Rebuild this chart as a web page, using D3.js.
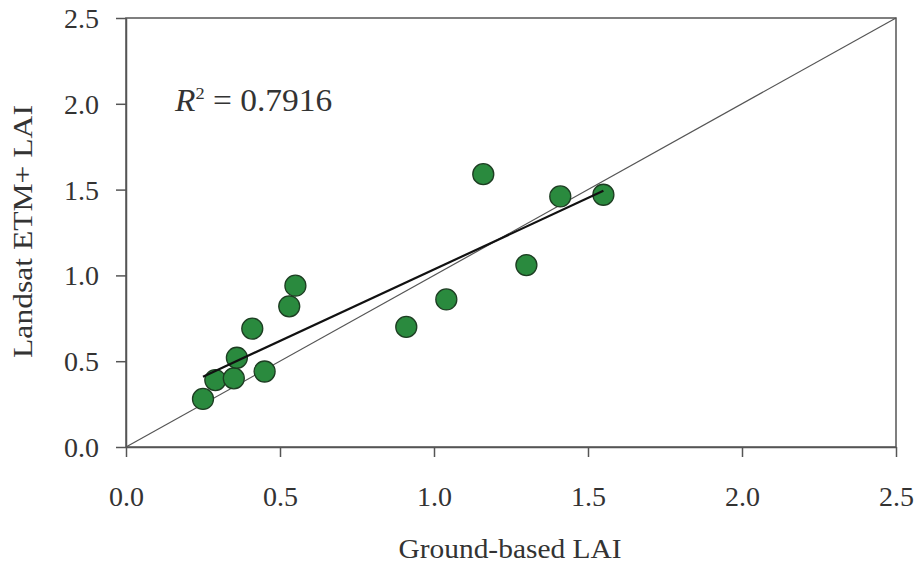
<!DOCTYPE html>
<html>
<head>
<meta charset="utf-8">
<script src="https://cdn.jsdelivr.net/npm/d3@7"></script>
<style>
  html, body { margin: 0; padding: 0; background: #fff; }
  svg { display: block; font-family: "Liberation Serif", "Times New Roman", serif; }
</style>
</head>
<body>
<svg id="chart" width="914" height="567"></svg>
<script>
// ground-based LAI (x) vs Landsat ETM+ LAI (y)
const groundLAI = [0.25, 0.29, 0.35, 0.36, 0.41, 0.45, 0.53, 0.55, 0.91, 1.04, 1.16, 1.30, 1.41, 1.55];
const landsatLAI = [0.28, 0.39, 0.40, 0.52, 0.69, 0.44, 0.82, 0.94, 0.70, 0.86, 1.59, 1.06, 1.46, 1.47];
const tickValues = [0, 0.5, 1.0, 1.5, 2.0, 2.5];
const rSquared = '0.7916';

const svg = d3.select('#chart');
const margin = { left: 126, right: 18, top: 18, bottom: 120 };
const width = 914, height = 567;

const x = d3.scaleLinear().domain([0, 2.5]).range([margin.left, width - margin.right]);
const y = d3.scaleLinear().domain([0, 2.5]).range([height - margin.bottom, margin.top]);

const textColor = '#333';
const axisColor = '#555';

// frame
svg.append('rect')
  .attr('x', x(0)).attr('y', y(2.5))
  .attr('width', x(2.5) - x(0)).attr('height', y(0) - y(2.5))
  .attr('fill', 'none').attr('stroke', axisColor).attr('stroke-width', 1.5);

const xAxis = svg.append('g')
  .attr('transform', `translate(0,${y(0)})`)
  .call(d3.axisBottom(x).tickValues(tickValues).tickSize(10).tickSizeOuter(0).tickPadding(29).tickFormat(d3.format('.1f')));
const yAxis = svg.append('g')
  .attr('transform', `translate(${x(0)},0)`)
  .call(d3.axisLeft(y).tickValues(tickValues).tickSize(10).tickSizeOuter(0).tickPadding(17).tickFormat(d3.format('.1f')));

[xAxis, yAxis].forEach((g) => {
  g.select('.domain').attr('stroke', axisColor).attr('stroke-width', 1.5);
  g.selectAll('.tick line').attr('stroke', axisColor).attr('stroke-width', 1.5);
  g.selectAll('.tick text')
    .attr('fill', textColor)
    .attr('font-size', 28)
    .attr('font-family', '"Liberation Serif", serif');
});
xAxis.selectAll('.tick text').attr('dy', '0.71em');
yAxis.selectAll('.tick text').attr('dy', '0.34em');

// 1:1 line
svg.append('line')
  .attr('x1', x(0)).attr('y1', y(0))
  .attr('x2', x(2.5)).attr('y2', y(2.5))
  .attr('stroke', '#555').attr('stroke-width', 1.2);

// least-squares fit over the data range
const mx = d3.mean(groundLAI), my = d3.mean(landsatLAI);
const sxy = d3.sum(groundLAI, (v, i) => (v - mx) * (landsatLAI[i] - my));
const sxx = d3.sum(groundLAI, (v) => (v - mx) ** 2);
const slope = sxy / sxx;
const intercept = my - slope * mx;
const [x0, x1] = d3.extent(groundLAI);

const points = groundLAI.map((v, i) => ({ gx: v, ly: landsatLAI[i] }));

svg.append('g')
  .selectAll('circle')
  .data(points)
  .join('circle')
  .attr('cx', (d) => x(d.gx))
  .attr('cy', (d) => y(d.ly))
  .attr('r', 10.5)
  .attr('fill', '#2a8a3e')
  .attr('stroke', '#1d3d22')
  .attr('stroke-width', 1.3);

svg.append('line')
  .attr('x1', x(x0)).attr('y1', y(slope * x0 + intercept))
  .attr('x2', x(x1)).attr('y2', y(slope * x1 + intercept))
  .attr('stroke', '#111').attr('stroke-width', 2.2);

// R² label (source text is slightly wide, so stretch horizontally)
const r2 = svg.append('text')
  .attr('transform', 'translate(175,111) scale(1.08,1)')
  .attr('fill', textColor)
  .attr('font-size', 31);
r2.append('tspan').attr('font-style', 'italic').text('R');
r2.append('tspan').attr('font-size', 17).attr('dy', -12).text('2');
r2.append('tspan').attr('dy', 12).text(' = ' + rSquared);

// axis titles
svg.append('text')
  .attr('transform', `translate(${(x(0) + x(2.5)) / 2 - 1},558) scale(1.09,1)`)
  .attr('text-anchor', 'middle')
  .attr('fill', textColor)
  .attr('font-size', 27)
  .text('Ground-based LAI');

svg.append('text')
  .attr('transform', 'translate(32,231.5) rotate(-90) scale(1.17,1)')
  .attr('text-anchor', 'middle')
  .attr('fill', textColor)
  .attr('font-size', 27)
  .text('Landsat ETM+ LAI');
</script>
</body>
</html>
